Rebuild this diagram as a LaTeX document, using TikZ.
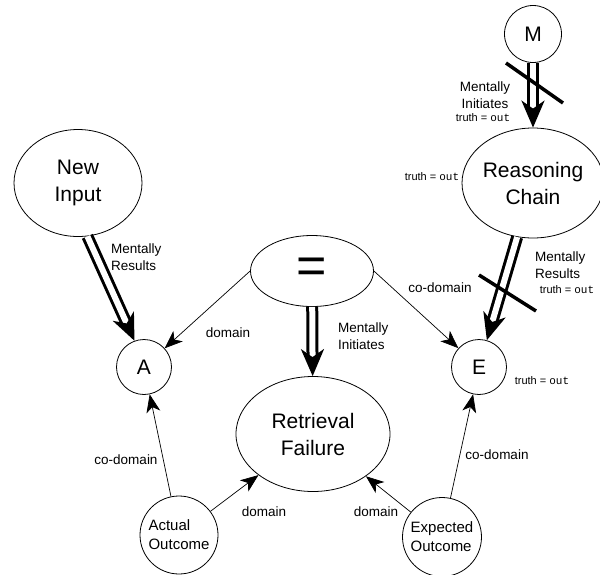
\documentclass[tikz,border=0pt]{standalone}
\usepackage{fontspec}
\setmainfont{Liberation Sans}
\setmonofont{Liberation Mono}
\usetikzlibrary{arrows.meta,shapes.geometric}
\tikzset{
  fogalom/.style={draw,line width=0.8pt,inner sep=0pt,align=center,font=\fontsize{21}{27}\selectfont},
  kor/.style={fogalom,circle},
  tojas/.style={fogalom,ellipse},
  cimke/.style={inner sep=0pt,font=\fontsize{13.5}{17}\selectfont},
  igaz/.style={inner sep=0pt,font=\fontsize{11}{13}\selectfont},
  rel/.style={line width=0.7pt,-{Stealth[length=18pt,width=14pt,inset=5pt]}},
  ment/.style={double,line width=3pt,double distance=6pt,-{Stealth[length=27pt,width=23pt,inset=8pt]}},
  kereszt/.style={line width=3.5pt},
}
\newcommand{\truthout}{truth = \texttt{out}}
\begin{document}
\begin{tikzpicture}[x=1pt,y=-1pt]
  \useasboundingbox (0,0) rectangle (600,574);
  % fogalmak
  \node[kor,minimum size=57pt] (m) at (533,34) {M};
  \node[tojas,minimum width=127pt,minimum height=110pt] (rc) at (533,183) {Reasoning\\Chain};
  \node[tojas,minimum width=128pt,minimum height=107pt] (ni) at (78,183) {New\\Input};
  \node[tojas,minimum width=123pt,minimum height=71pt,font=\fontsize{52}{52}\selectfont] (eq) at (312,271) {=};
  \node[kor,minimum size=55pt] (a) at (144,367) {A};
  \node[kor,minimum size=55pt] (e) at (479,367) {E};
  \node[tojas,minimum width=154pt,minimum height=115pt] (rf) at (313,434) {Retrieval\\Failure};
  \node[kor,minimum size=78pt,align=left,font=\fontsize{15}{19}\selectfont] (ao) at (179,535) {Actual\\Outcome};
  \node[kor,minimum size=79pt,align=left,font=\fontsize{15}{19}\selectfont] (eo) at (442,537) {Expected\\Outcome};
  % kapcsolatok
  \draw[ment] (m) -- (rc);
  \draw[ment] (rc) -- (e);
  \draw[ment] (ni.-80) -- (a.110);
  \draw[ment] (eq) -- (rf);
  \draw[rel] (eq.west) -- (a);
  \draw[rel] (eq.east) -- (e);
  \draw[rel] (ao) -- (a);
  \draw[rel] (ao) -- (rf);
  \draw[rel] (eo) -- (rf);
  \draw[rel] (eo) -- (e);
  % athuzasok
  \coordinate (k1a) at (506,63);
  \coordinate (k1b) at (563,103);
  \coordinate (k2a) at (479,275);
  \coordinate (k2b) at (536,311);
  \draw[kereszt] (k1a) -- (k1b);
  \draw[kereszt] (k2a) -- (k2b);
  % feliratok
  \node[cimke,align=center] (l1) at (485,95) {Mentally\\Initiates};
  \node[igaz] (t1) at (483,118) {\truthout};
  \node[igaz] (t2) at (432,177) {\truthout};
  \node[cimke,align=left,anchor=north west] (l2) at (535,252) {Mentally\\Results};
  \node[igaz] (t3) at (567,290) {\truthout};
  \node[cimke] (l3) at (440,288) {co-domain};
  \node[cimke,align=left,anchor=north west] (l4) at (111,244) {Mentally\\Results};
  \node[cimke] (l5) at (228,333) {domain};
  \node[cimke,align=left,anchor=north west] (l6) at (338,323) {Mentally\\Initiates};
  \node[cimke] (l7) at (126,460) {co-domain};
  \node[cimke] (l8) at (264,512) {domain};
  \node[cimke] (l9) at (376,512) {domain};
  \node[cimke] (l10) at (497,455) {co-domain};
  \node[igaz] (t4) at (542,381) {\truthout};
\end{tikzpicture}
\end{document}
